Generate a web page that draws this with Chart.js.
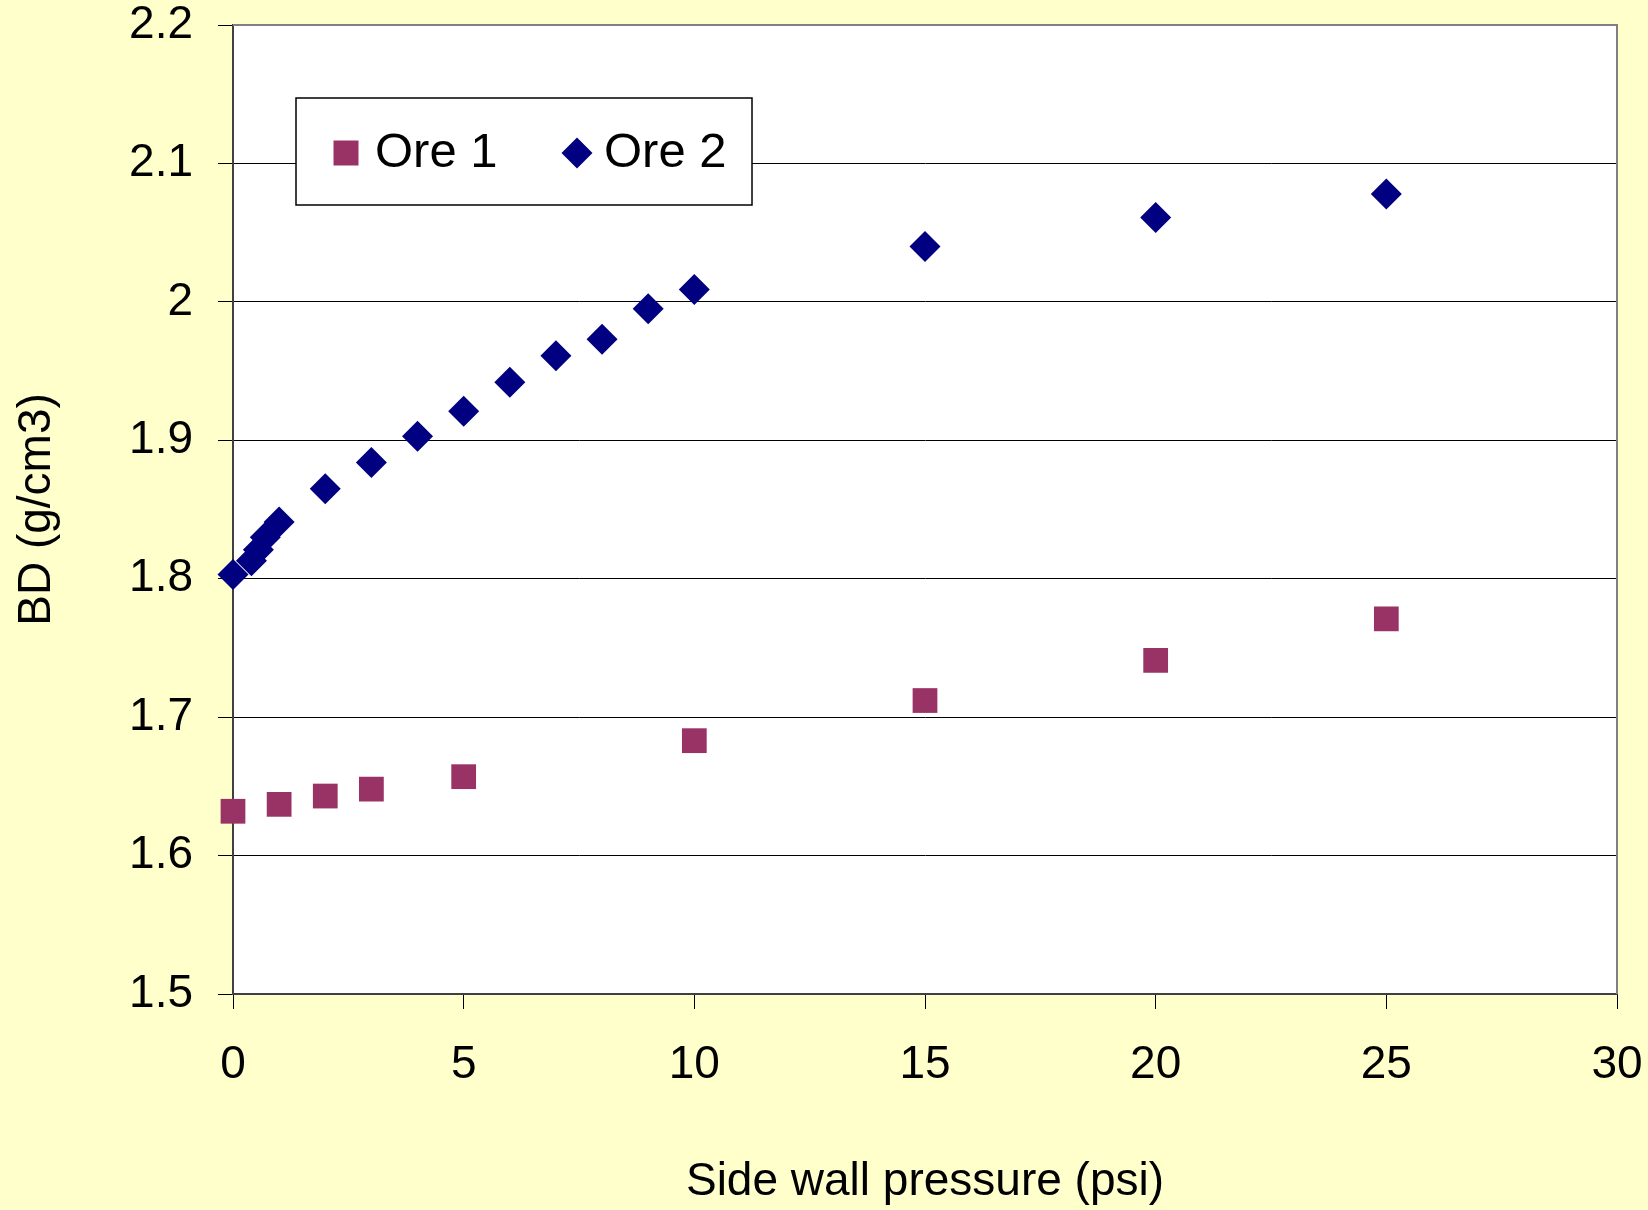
<!DOCTYPE html>
<html>
<head>
<meta charset="utf-8">
<script src="https://cdn.jsdelivr.net/npm/chart.js@4.4.1/dist/chart.umd.min.js"></script>
<style>
  html, body { margin: 0; padding: 0; background: #FFFFCC; }
  #wrap { width: 1648px; height: 1210px; }
</style>
</head>
<body>
<div id="wrap"><canvas id="myChart" width="1648" height="1210"></canvas></div>
<script>
// donnees
const seriesNames = ['Ore 1', 'Ore 2'];
const ore1X = [0, 1, 2, 3, 5, 10, 15, 20, 25];
const ore1Y = [1.632, 1.637, 1.643, 1.648, 1.657, 1.683, 1.712, 1.741, 1.771];
const ore2X = [0, 0.4, 0.55, 0.7, 1, 2, 3, 4, 5, 6, 7, 8, 9, 10, 15, 20, 25];
const ore2Y = [1.803, 1.813, 1.821, 1.830, 1.841, 1.865, 1.884, 1.903, 1.921, 1.942, 1.961, 1.973, 1.995, 2.009, 2.040, 2.061, 2.078];
const xTicks = [0, 5, 10, 15, 20, 25, 30];
const yTicks = [1.5, 1.6, 1.7, 1.8, 1.9, 2.0, 2.1, 2.2];
const yTickLabels = ['1.5', '1.6', '1.7', '1.8', '1.9', '2', '2.1', '2.2'];

const police = 'Liberation Sans, Arial, sans-serif';

function toPoints(xs, ys) {
    return xs.map((x, i) => ({ x: x, y: ys[i] }));
}

// fond jaune, zone blanche, cadre gris et legende dans le graphique
const fondPlugin = {
    id: 'fond',
    beforeDraw(chart) {
        const ctx = chart.ctx;
        const a = chart.chartArea;
        ctx.save();
        ctx.fillStyle = '#FFFFCC';
        ctx.fillRect(0, 0, chart.width, chart.height);
        ctx.fillStyle = '#FFFFFF';
        ctx.fillRect(a.left, a.top, a.right - a.left, a.bottom - a.top);
        ctx.restore();
    },
    beforeDatasetsDraw(chart) {
        const ctx = chart.ctx;
        const a = chart.chartArea;
        ctx.save();
        ctx.strokeStyle = '#808080';
        ctx.lineWidth = 2;
        ctx.beginPath();
        ctx.moveTo(a.left, a.top);
        ctx.lineTo(a.right, a.top);
        ctx.lineTo(a.right, a.bottom);
        ctx.stroke();
        ctx.restore();
    },
    afterDraw(chart) {
        const ctx = chart.ctx;
        const a = chart.chartArea;
        const bx = a.left + 63, by = a.top + 73, bw = 456, bh = 107;
        ctx.save();
        ctx.fillStyle = '#FFFFFF';
        ctx.fillRect(bx, by, bw, bh);
        ctx.strokeStyle = '#000000';
        ctx.lineWidth = 1.5;
        ctx.strokeRect(bx, by, bw, bh);
        const cy = by + 55;
        const ds = chart.data.datasets;
        // Ore 1 : carre
        ctx.fillStyle = ds[0].backgroundColor;
        ctx.fillRect(bx + 50 - 12.5, cy - 12.5, 25, 25);
        // Ore 2 : losange
        const dx = bx + 281;
        ctx.fillStyle = ds[1].backgroundColor;
        ctx.beginPath();
        ctx.moveTo(dx - 15.5, cy);
        ctx.lineTo(dx, cy - 15.5);
        ctx.lineTo(dx + 15.5, cy);
        ctx.lineTo(dx, cy + 15.5);
        ctx.closePath();
        ctx.fill();
        ctx.fillStyle = '#000000';
        ctx.font = '49px ' + police;
        ctx.textBaseline = 'middle';
        ctx.textAlign = 'left';
        ctx.fillText(ds[0].label, bx + 79, cy);
        ctx.fillText(ds[1].label, bx + 308, cy);
        ctx.restore();
    }
};

const ctx = document.getElementById('myChart').getContext('2d');
const myChart = new Chart(ctx, {
    type: 'scatter',
    data: {
        datasets: [{
            label: seriesNames[0],
            data: toPoints(ore1X, ore1Y),
            pointStyle: 'rect',
            pointRadius: 17.5,
            pointHoverRadius: 17.5,
            pointBorderWidth: 0,
            backgroundColor: '#993366',
            borderColor: '#993366',
            clip: false
        }, {
            label: seriesNames[1],
            data: toPoints(ore2X, ore2Y),
            pointStyle: 'rectRot',
            pointRadius: 15.5,
            pointHoverRadius: 15.5,
            pointBorderWidth: 0,
            backgroundColor: '#000080',
            borderColor: '#000080',
            clip: false
        }]
    },
    options: {
        responsive: false,
        animation: false,
        layout: { padding: { top: 25, right: 31, left: 0, bottom: 0 } },
        plugins: {
            legend: { display: false },
            tooltip: { enabled: false }
        },
        scales: {
            x: {
                type: 'linear',
                min: 0,
                max: 30,
                afterBuildTicks: function(scale) {
                    scale.ticks = xTicks.map(v => ({ value: v }));
                },
                afterFit: function(scale) {
                    scale.height = 216;
                    scale.paddingLeft = 0;
                    scale.paddingRight = 0;
                },
                grid: {
                    drawOnChartArea: false,
                    drawTicks: true,
                    tickLength: 15,
                    tickColor: '#000000',
                    tickWidth: 1
                },
                border: { display: true, color: '#404040', width: 2 },
                ticks: {
                    color: '#000000',
                    font: { family: police, size: 46, lineHeight: 1 },
                    padding: 33,
                    maxRotation: 0,
                    autoSkip: false
                },
                title: {
                    display: true,
                    text: 'Side wall pressure (psi)',
                    color: '#000000',
                    font: { family: police, size: 46 },
                    padding: { top: 0, bottom: 0 }
                }
            },
            y: {
                type: 'linear',
                min: 1.5,
                max: 2.2,
                afterBuildTicks: function(scale) {
                    scale.ticks = yTicks.map(v => ({ value: v }));
                },
                afterFit: function(scale) {
                    scale.width = 233;
                    scale.paddingTop = 0;
                    scale.paddingBottom = 0;
                },
                grid: {
                    color: '#000000',
                    lineWidth: 1,
                    drawTicks: true,
                    tickLength: 15,
                    tickColor: '#000000'
                },
                border: { display: true, color: '#404040', width: 2 },
                ticks: {
                    color: '#000000',
                    font: { family: police, size: 46, lineHeight: 1 },
                    padding: 25,
                    autoSkip: false,
                    callback: function(value, index) {
                        return yTickLabels[index];
                    }
                },
                title: {
                    display: true,
                    text: 'BD (g/cm3)',
                    color: '#000000',
                    font: { family: police, size: 46 },
                    padding: { top: 10, bottom: 0 }
                }
            }
        }
    },
    plugins: [fondPlugin]
});
</script>
</body>
</html>
